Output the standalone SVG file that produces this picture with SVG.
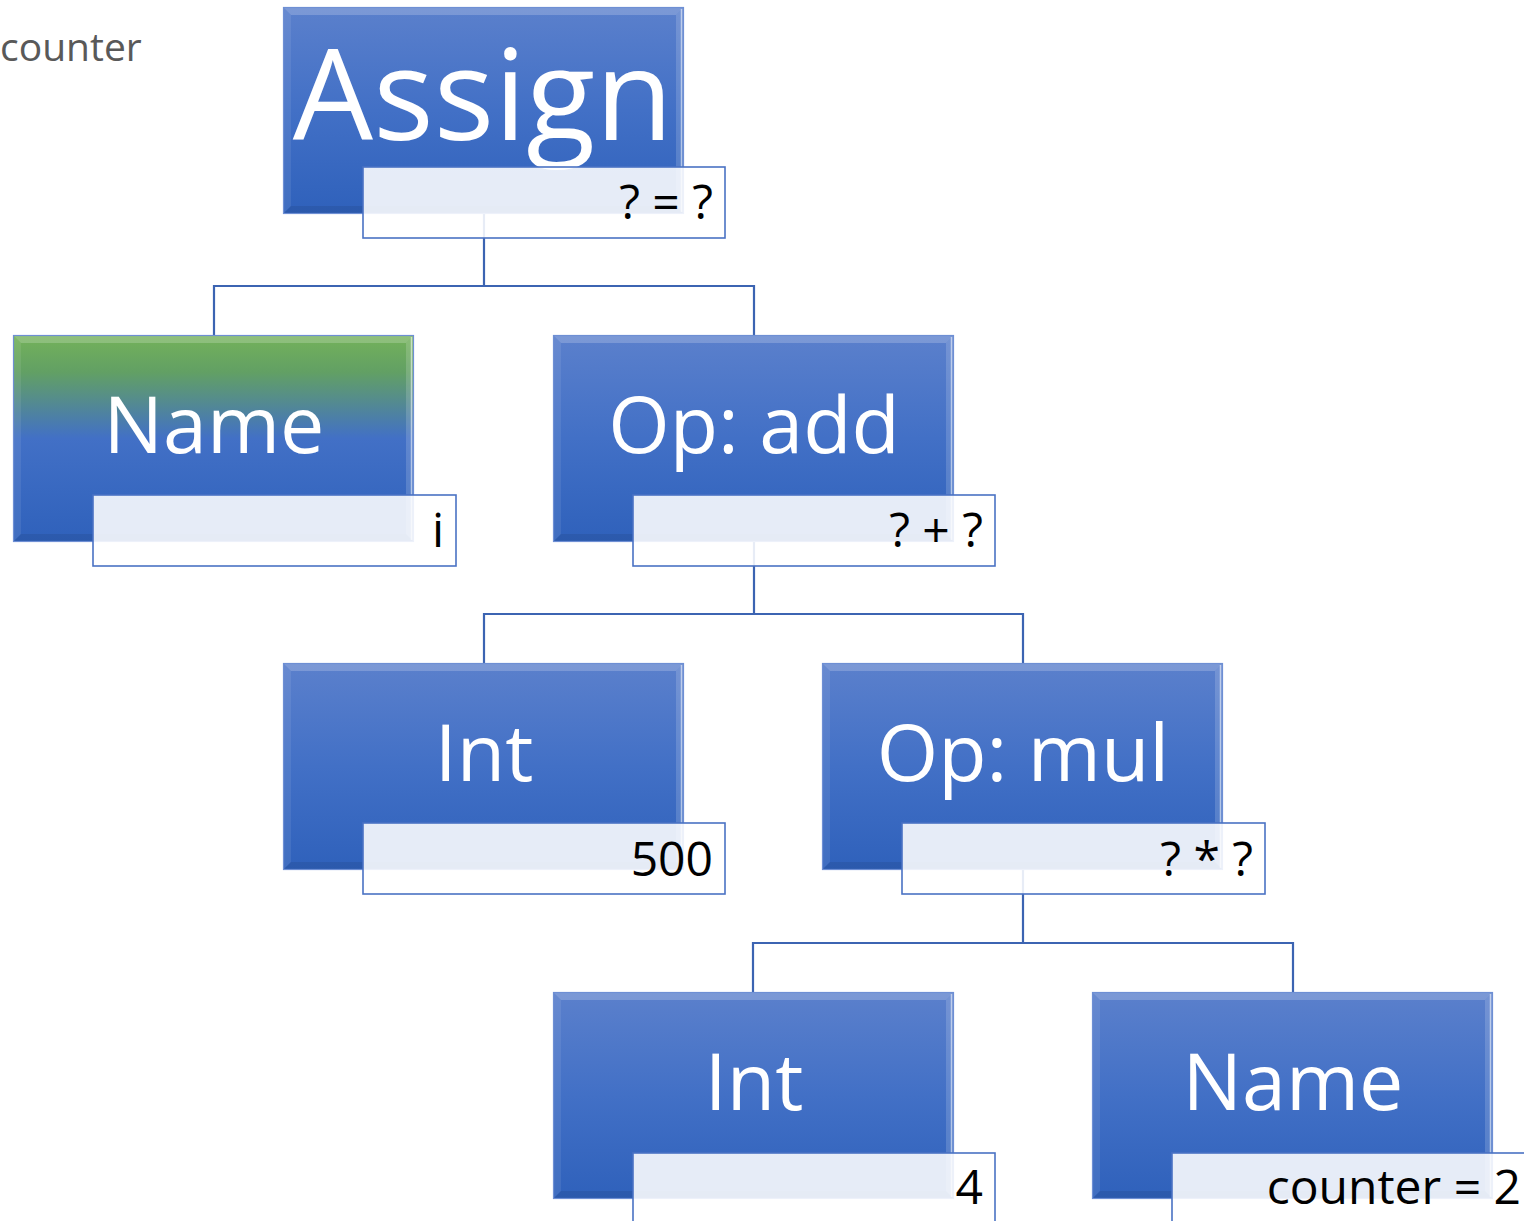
<svg xmlns="http://www.w3.org/2000/svg" xmlns:xlink="http://www.w3.org/1999/xlink" width="1524" height="1221" viewBox="0 0 1524 1221">
<style>
.conn{fill:none;stroke:#3c64b2;stroke-width:2.2}
.title{font-family:"Open Sans","Noto Sans",sans-serif;fill:#ffffff;text-anchor:middle}
.lvl{font-size:79px}
.sub{fill:#ffffff;fill-opacity:0.88;stroke:#4a72c4;stroke-width:1.6}
.subt{font-family:"Open Sans","Noto Sans",sans-serif;font-size:48px;fill:#000000;text-anchor:end}
.note{font-family:"Open Sans","Noto Sans",sans-serif;font-size:39px;fill:#595959}
</style>
<defs>
<linearGradient id="blueG" x1="0" y1="0" x2="0" y2="1">
<stop offset="0" stop-color="#5b80cc"/>
<stop offset="0.5" stop-color="#4270c6"/>
<stop offset="1" stop-color="#2f61bb"/>
</linearGradient>
<linearGradient id="greenG" x1="0" y1="0" x2="0" y2="1">
<stop offset="0" stop-color="#74b25a"/>
<stop offset="0.18" stop-color="#62a064"/>
<stop offset="0.5" stop-color="#4270c6"/>
<stop offset="1" stop-color="#2f61bb"/>
</linearGradient>
<g id="bevel">
<polygon points="0,0 401,0 393,8 8,8" fill="#ffffff" fill-opacity="0.2"/>
<polygon points="0,0 8,8 8,199 0,207" fill="#ffffff" fill-opacity="0.08"/>
<polygon points="401,0 401,207 393,199 393,8" fill="#ffffff" fill-opacity="0.16"/>
<polygon points="0,207 8,199 393,199 401,207" fill="#000000" fill-opacity="0.08"/>
<line x1="398.5" y1="2" x2="398.5" y2="205" stroke="#ffffff" stroke-opacity="0.55" stroke-width="1.5"/>
<rect x="0.5" y="0.5" width="400" height="206" fill="none" stroke="#6e8fd4" stroke-width="1.2"/>
</g>
</defs>
<rect width="1524" height="1221" fill="#ffffff"/>
<text class="note" x="0" y="61">counter</text>
<g id="connectors">
<path class="conn" d="M484,213 V286 M214,335 V286 H754 V335"/>
<path class="conn" d="M754,542 V614 M484,663 V614 H1023 V663"/>
<path class="conn" d="M1023,870 V943 M753,992 V943 H1293 V992"/>
</g>
<g id="node-assign">
<rect x="283" y="7" width="401" height="207" fill="url(#blueG)"/>
<use xlink:href="#bevel" transform="translate(283,7)"/>
<text class="title" x="483" y="140" font-size="127">Assign</text>
<rect class="sub" x="363" y="167" width="362" height="71"/>
<text class="subt" x="713" y="219">? = ?</text>
</g>
<g id="node-name-i">
<rect x="13" y="335" width="401" height="207" fill="url(#greenG)"/>
<use xlink:href="#bevel" transform="translate(13,335)"/>
<text class="title lvl" x="214" y="453">Name</text>
<rect class="sub" x="93" y="495" width="363" height="71"/>
<text class="subt" x="444" y="547">i</text>
</g>
<g id="node-op-add">
<rect x="553" y="335" width="401" height="207" fill="url(#blueG)"/>
<use xlink:href="#bevel" transform="translate(553,335)"/>
<text class="title lvl" x="754" y="453">Op: add</text>
<rect class="sub" x="633" y="495" width="362" height="71"/>
<text class="subt" x="983" y="547">? + ?</text>
</g>
<g id="node-int-500">
<rect x="283" y="663" width="401" height="207" fill="url(#blueG)"/>
<use xlink:href="#bevel" transform="translate(283,663)"/>
<text class="title lvl" x="484" y="781">Int</text>
<rect class="sub" x="363" y="823" width="362" height="71"/>
<text class="subt" x="713" y="876">500</text>
</g>
<g id="node-op-mul">
<rect x="822" y="663" width="401" height="207" fill="url(#blueG)"/>
<use xlink:href="#bevel" transform="translate(822,663)"/>
<text class="title lvl" x="1023" y="781">Op: mul</text>
<rect class="sub" x="902" y="823" width="363" height="71"/>
<text class="subt" x="1253" y="876">? * ?</text>
</g>
<g id="node-int-4">
<rect x="553" y="992" width="401" height="207" fill="url(#blueG)"/>
<use xlink:href="#bevel" transform="translate(553,992)"/>
<text class="title lvl" x="754" y="1110">Int</text>
<rect class="sub" x="633" y="1153" width="362" height="71"/>
<text class="subt" x="983" y="1204">4</text>
</g>
<g id="node-name-counter">
<rect x="1092" y="992" width="401" height="207" fill="url(#blueG)"/>
<use xlink:href="#bevel" transform="translate(1092,992)"/>
<text class="title lvl" x="1293" y="1110">Name</text>
<rect class="sub" x="1172" y="1153" width="363" height="71"/>
<text class="subt" x="1521" y="1204">counter = 2</text>
</g>
</svg>
